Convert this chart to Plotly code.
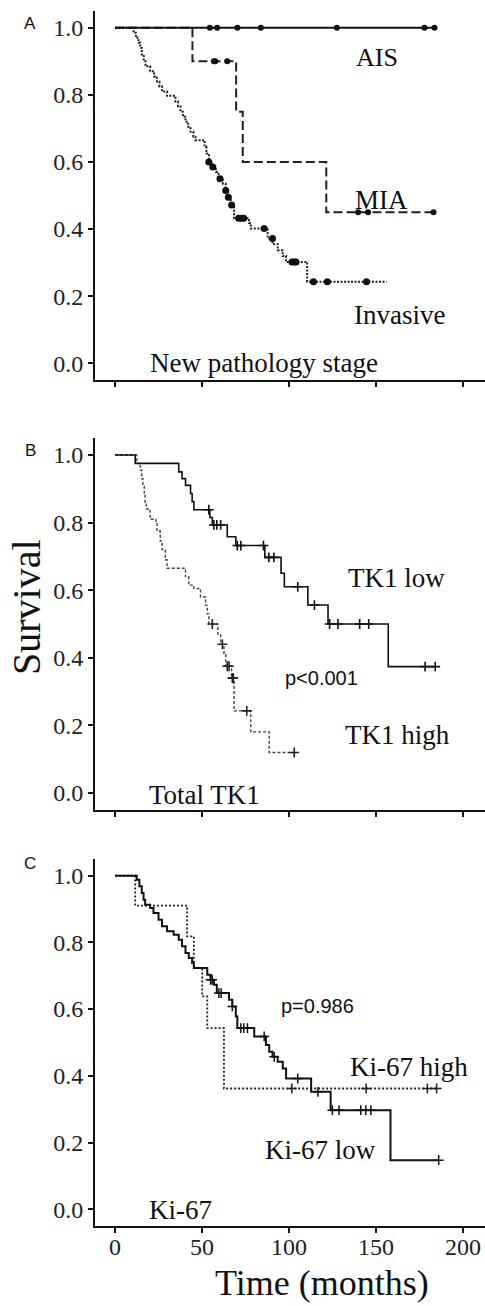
import plotly.graph_objects as go

# ---------------- Panel A: New pathology stage ----------------
ais_t = [0]
ais_s = [1.0]
ais_end = 184
ais_cens_t = [54.5, 58.7, 70.3, 83.8, 127.5, 177.8, 183.6]
ais_cens_s = [1.0, 1.0, 1.0, 1.0, 1.0, 1.0, 1.0]

mia_t = [0, 44.5, 69.6, 73.4, 121.4]
mia_s = [1.0, 0.90, 0.75, 0.60, 0.45]
mia_end = 183
mia_cens_t = [56.8, 57.6, 64.5, 139.7, 145.4, 183]
mia_cens_s = [0.90, 0.90, 0.90, 0.45, 0.45, 0.45]

inv_t = [0, 10.6, 12, 13.5, 14.5, 15.4, 16.5, 17.5, 20.2, 22.5, 24.1, 25.5, 27, 29.9,
         34.7, 36.2, 37.6, 39, 40.5, 42, 43.4, 45, 46.2, 51.5, 52.5, 54, 55.5, 58, 59.5,
         62, 63.6, 65, 66.5, 68.4, 77, 78, 87.7, 90.5, 93.5, 96.3, 98.3, 110.4]
inv_s = [1.0, 0.985, 0.97, 0.955, 0.94, 0.92, 0.90, 0.885, 0.87, 0.855, 0.84, 0.825, 0.81, 0.797,
         0.78, 0.765, 0.75, 0.735, 0.72, 0.705, 0.69, 0.675, 0.665, 0.645, 0.625, 0.60, 0.585, 0.57, 0.55,
         0.535, 0.515, 0.495, 0.472, 0.432, 0.418, 0.402, 0.372, 0.355, 0.337, 0.320, 0.302, 0.243]
inv_end = 156
inv_cens_t = [53.9, 56.2, 60.3, 63.6, 65.1, 67, 71, 72.5, 74, 85.7, 90.5, 101.7, 103, 104, 114, 122, 144.5]
inv_cens_s = [0.60, 0.585, 0.55, 0.515, 0.495, 0.472, 0.432, 0.432, 0.432, 0.402, 0.372, 0.302, 0.302,
              0.302, 0.243, 0.243, 0.243]

# ---------------- Panel B: Total TK1 ----------------
low_t = [0, 11.6, 36.6, 38.5, 40.5, 43.4, 44.3, 45.3, 54.5, 55.9, 64.5, 69.4, 86.1, 95.4, 97.3,
         110.8, 122.4, 157]
low_s = [1.0, 0.975, 0.95, 0.93, 0.91, 0.886, 0.862, 0.838, 0.815, 0.793, 0.758, 0.732, 0.697,
         0.65, 0.61, 0.556, 0.50, 0.374]
low_end = 184
low_cens_t = [53.9, 56.8, 58.5, 60.7, 70.3, 72.3, 85.3, 88.4, 91.3, 105, 114.6, 123.3, 128.1,
              140.6, 145.8, 178.2, 184]
low_cens_s = [0.838, 0.793, 0.793, 0.793, 0.732, 0.732, 0.732, 0.697, 0.697, 0.61, 0.556, 0.50,
              0.50, 0.50, 0.50, 0.374, 0.374]

high_t = [0, 12.5, 14.5, 15.4, 16, 16.8, 17.3, 18, 20.2, 23.5, 24.1, 26, 27, 28.9, 29.9, 40.5,
          42.4, 45.3, 49.1, 52, 53, 53.9, 59.1, 60.7, 62.6, 63.6, 67, 68.4, 78, 88.6]
high_s = [1.0, 0.975, 0.955, 0.93, 0.91, 0.887, 0.86, 0.84, 0.81, 0.80, 0.775, 0.745, 0.72, 0.69,
          0.665, 0.64, 0.615, 0.605, 0.58, 0.555, 0.53, 0.50, 0.47, 0.44, 0.41, 0.375, 0.34, 0.243,
          0.181, 0.12]
high_end = 103
high_cens_t = [55.9, 61.7, 64.5, 65.5, 67.4, 68, 75.7, 103]
high_cens_s = [0.50, 0.44, 0.375, 0.375, 0.34, 0.34, 0.243, 0.12]

# ---------------- Panel C: Ki-67 ----------------
kl_t = [0, 12.5, 14, 15.4, 16.4, 17.3, 20.2, 22.1, 25, 27, 29.9, 33.7, 36.6, 38.5, 40.5, 42.4,
        44.3, 45.3, 53, 54.9, 56.8, 58.5, 65.5, 67.4, 69.4, 70.3, 80, 86.7, 88.6, 90.5, 93.5,
        96.4, 98.3, 112.7, 123.9, 158.3]
kl_s = [1.0, 0.988, 0.968, 0.948, 0.928, 0.913, 0.903, 0.888, 0.868, 0.848, 0.833, 0.823, 0.808,
        0.788, 0.768, 0.753, 0.738, 0.723, 0.703, 0.688, 0.673, 0.648, 0.628, 0.608, 0.578, 0.543,
        0.518, 0.492, 0.472, 0.457, 0.442, 0.422, 0.392, 0.352, 0.297, 0.147]
kl_end = 186
kl_cens_t = [54.9, 55.8, 59.7, 61, 67.4, 72.3, 74, 76.1, 85.7, 91.5, 105, 116.6, 124.9, 128.7,
             141.2, 144.1, 147, 186]
kl_cens_s = [0.688, 0.688, 0.648, 0.648, 0.608, 0.543, 0.543, 0.543, 0.518, 0.457, 0.392, 0.352,
             0.297, 0.297, 0.297, 0.297, 0.297, 0.147]

kh_t = [0, 11.6, 41.4, 45.3, 50.1, 53, 62.6]
kh_s = [1.0, 0.91, 0.818, 0.723, 0.638, 0.543, 0.362]
kh_end = 185
kh_cens_t = [101.6, 144.3, 179.5, 184.8]
kh_cens_s = [0.362, 0.362, 0.362, 0.362]

x_ticks = [0, 50, 100, 150, 200]
y_ticks = [0.0, 0.2, 0.4, 0.6, 0.8, 1.0]
y_ticklabels = ["0.0", "0.2", "0.4", "0.6", "0.8", "1.0"]

SERIF = "Liberation Serif, Times New Roman, serif"
SANS = "Liberation Sans, Arial, sans-serif"

fig = go.Figure()


def add_curve(t, s, end, ct, cs, ax, color, width, dash, msym, msize, mcolor, mline=0):
    xa = "x" if ax == 1 else f"x{ax}"
    ya = "y" if ax == 1 else f"y{ax}"
    fig.add_trace(go.Scatter(x=list(t) + [end], y=list(s) + [s[-1]], mode="lines",
                             line=dict(shape="hv", color=color, width=width, dash=dash),
                             xaxis=xa, yaxis=ya, showlegend=False, hoverinfo="skip"))
    if msym == "circle":
        marker = dict(symbol="circle", size=msize, color=mcolor)
    else:
        marker = dict(symbol=msym, size=msize, color=mcolor, line=dict(color=mcolor, width=mline))
    fig.add_trace(go.Scatter(x=ct, y=cs, mode="markers", marker=marker,
                             xaxis=xa, yaxis=ya, showlegend=False, hoverinfo="skip"))


# Panel A
add_curve(inv_t, inv_s, inv_end, inv_cens_t, inv_cens_s, 1, "#222", 2, "2px,1.5px", "circle", 7, "#111")
add_curve(mia_t, mia_s, mia_end, mia_cens_t, mia_cens_s, 1, "#222", 2, "9px,4px", "circle", 6, "#111")
add_curve(ais_t, ais_s, ais_end, ais_cens_t, ais_cens_s, 1, "#111", 2.2, "solid", "circle", 6, "#111")
# Panel B
add_curve(high_t, high_s, high_end, high_cens_t, high_cens_s, 2, "#444", 1.4, "3px,2px", "cross-thin", 7, "#222", 1.6)
add_curve(low_t, low_s, low_end, low_cens_t, low_cens_s, 2, "#111", 1.6, "solid", "cross-thin", 7, "#111", 1.6)
# Panel C
add_curve(kh_t, kh_s, kh_end, kh_cens_t, kh_cens_s, 3, "#222", 1.8, "2px,2px", "cross-thin", 7, "#222", 1.5)
add_curve(kl_t, kl_s, kl_end, kl_cens_t, kl_cens_s, 3, "#111", 2, "solid", "cross-thin", 7, "#111", 1.5)

XR = [-11.5, 212.6]
YR = [-0.05, 1.05]
domains = {1: [0.7090, 0.9916], 2: [0.3798, 0.6646], 3: [0.0613, 0.3423]}

layout = dict(width=485, height=1306, plot_bgcolor="white", paper_bgcolor="white",
              margin=dict(l=0, r=0, t=0, b=0), showlegend=False)
for i in (1, 2, 3):
    xk = "xaxis" if i == 1 else f"xaxis{i}"
    yk = "yaxis" if i == 1 else f"yaxis{i}"
    layout[xk] = dict(domain=[95 / 485, 1], range=XR, anchor="y" if i == 1 else f"y{i}",
                      showgrid=False, zeroline=False, showline=True, linecolor="#111", linewidth=2,
                      ticks="outside", ticklen=5, tickwidth=1.5, tickcolor="#111",
                      tickvals=x_ticks, ticktext=[str(v) for v in x_ticks],
                      showticklabels=(i == 3), ticklabelstandoff=-7,
                      tickfont=dict(family=SERIF, size=24, color="#222"))
    layout[yk] = dict(domain=domains[i], range=YR, anchor="x" if i == 1 else f"x{i}",
                      showgrid=False, zeroline=False, showline=True, linecolor="#111", linewidth=2,
                      ticks="outside", ticklen=5, tickwidth=1.5, tickcolor="#111",
                      tickvals=y_ticks, ticktext=y_ticklabels,
                      tickfont=dict(family=SERIF, size=24, color="#222"))
fig.update_layout(**layout)


def lab(text, x, y, ax, size=27, family=SERIF):
    xr = "x" if ax == 1 else f"x{ax}"
    yr = "y" if ax == 1 else f"y{ax}"
    fig.add_annotation(text=text, x=x, y=y, xref=xr, yref=yr, showarrow=False,
                       font=dict(family=family, size=size, color="#111"),
                       xanchor="center", yanchor="middle")


lab("AIS", 150.6, 0.91, 1, size=26)
lab("MIA", 153.4, 0.487, 1)
lab("Invasive", 163.2, 0.143, 1)
lab("New pathology stage", 85.6, 0.0, 1)
lab("TK1 low", 162, 0.636, 2)
lab("TK1 high", 162.6, 0.172, 2)
lab("Total TK1", 51.7, -0.006, 2)
lab("p<0.001", 118.4, 0.34, 2, size=20, family=SANS)
lab("Ki-67 high", 169, 0.426, 3)
lab("Ki-67 low", 117.8, 0.177, 3)
lab("Ki-67", 37.9, -0.003, 3)
lab("p=0.986", 116.1, 0.61, 3, size=20, family=SANS)

for letter, py in (("A", 23), ("B", 450), ("C", 863)):
    fig.add_annotation(text=letter, x=30 / 485, y=1 - py / 1306, xref="paper", yref="paper",
                       showarrow=False, font=dict(family=SANS, size=17, color="#111"),
                       xanchor="center", yanchor="middle")

fig.add_annotation(text="Survival", x=27 / 485, y=1 - 607 / 1306, xref="paper", yref="paper",
                   showarrow=False, textangle=-90, font=dict(family=SERIF, size=40, color="#111"),
                   xanchor="center", yanchor="middle")
fig.add_annotation(text="Time (months)", x=322 / 485, y=0.0015, xref="paper", yref="paper",
                   showarrow=False, borderpad=0, font=dict(family=SERIF, size=36, color="#111"),
                   xanchor="center", yanchor="bottom")

fig.write_html("out.html", config={"displayModeBar": False},
               post_script="document.body.style.margin='0';document.body.style.overflow='hidden';")
